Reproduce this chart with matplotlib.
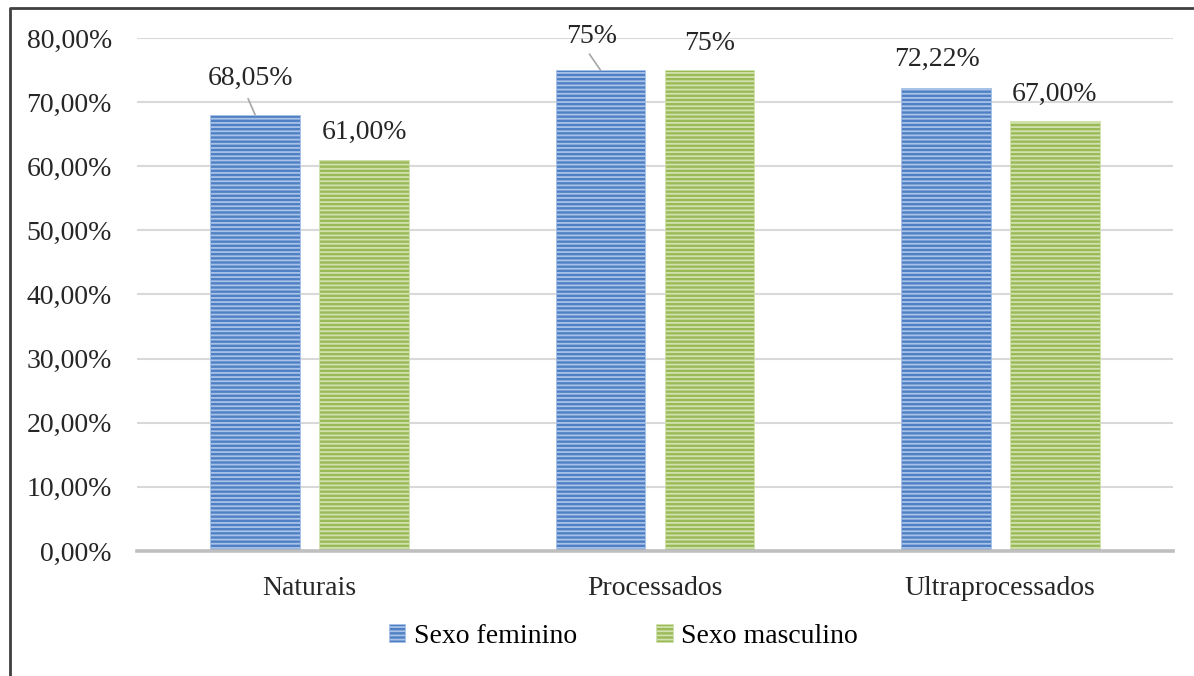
import matplotlib
matplotlib.use('Agg')
import matplotlib.pyplot as plt
from matplotlib.lines import Line2D
from matplotlib.patches import Patch
import numpy as np

categories = ["Naturais", "Processados", "Ultraprocessados"]
feminino = [68.05, 75, 72.22]
masculino = [61.00, 75, 67.00]
labels_fem = ["68,05%", "75%", "72,22%"]
labels_masc = ["61,00%", "75%", "67,00%"]
series_names = ["Sexo feminino", "Sexo masculino"]

plt.rcParams['font.family'] = ['Liberation Serif', 'DejaVu Serif']
fs = 20

fig = plt.figure(figsize=(11.94, 6.76), dpi=100)
ax = fig.add_axes([0.1147, 0.1849, 0.8677, 0.7589])

x = np.arange(len(categories))
w = 0.26
off = 0.158

blue, blue_hatch = '#4F80C4', '#A8C2E8'
green, green_hatch = '#9ABA58', '#D2E2AE'

plt.rcParams['hatch.linewidth'] = 1.3
b1 = ax.bar(x - off, feminino, w, color=blue, edgecolor=blue_hatch, linewidth=0.6,
            hatch='----', zorder=3)
b2 = ax.bar(x + off, masculino, w, color=green, edgecolor=green_hatch, linewidth=0.6,
            hatch='----', zorder=3)

ax.set_xlim(-0.5, 2.5)
ax.set_ylim(0, 80)
ax.set_yticks(np.arange(0, 81, 10))
ax.set_yticklabels([f"{v},00%" for v in range(0, 81, 10)], fontsize=fs, color='#262626')
ax.set_xticks(x)
ax.set_xticklabels(categories, fontsize=fs, color='#262626')
ax.tick_params(axis='y', length=0, pad=18)
ax.tick_params(axis='x', length=0, pad=18)

ax.grid(axis='y', color='#D9D9D9', linewidth=1.5, zorder=0)
for s in ['top', 'right', 'left']:
    ax.spines[s].set_visible(False)
ax.spines['bottom'].set_color('#BFBFBF')
ax.spines['bottom'].set_linewidth(2.6)
ax.spines['bottom'].set_zorder(4)

# value labels; two of the blue ones sit off the bar with a leader line
fem_offsets = [(-5, 36), (-9, 34), (-9, 28)]
for i, (v, lab) in enumerate(zip(feminino, labels_fem)):
    dx, dy = fem_offsets[i]
    ax.annotate(lab, (x[i] - off, v), xytext=(dx, dy), textcoords='offset pixels',
                ha='center', va='center', fontsize=fs, color='#262626')
    if i < 2:
        ax.annotate('', (x[i] - off, v), xytext=(dx - 2, 16), textcoords='offset pixels',
                    arrowprops=dict(arrowstyle='-', color='#A6A6A6', lw=1.2,
                                    shrinkA=0, shrinkB=0))
for i, (v, lab) in enumerate(zip(masculino, labels_masc)):
    ax.annotate(lab, (x[i] + off, v), xytext=(0, 27), textcoords='offset pixels',
                ha='center', va='center', fontsize=fs, color='#262626')

handles = [Patch(facecolor=blue, edgecolor=blue_hatch, hatch='----', linewidth=0.6),
           Patch(facecolor=green, edgecolor=green_hatch, hatch='----', linewidth=0.6)]
fig.legend(handles, series_names, loc='center', bbox_to_anchor=(0.522, 0.059),
           ncol=2, frameon=False, fontsize=fs, handlelength=0.6, handleheight=0.6,
           handletextpad=0.3, columnspacing=2.85)

# frame around the chart
bx, by = 9.5 / 1194, 1 - 8 / 676
fig.add_artist(Line2D([bx, bx, 1], [0, by, by], transform=fig.transFigure,
                      color='#404040', linewidth=2))

plt.savefig('out.png', dpi=100)
plt.close()
